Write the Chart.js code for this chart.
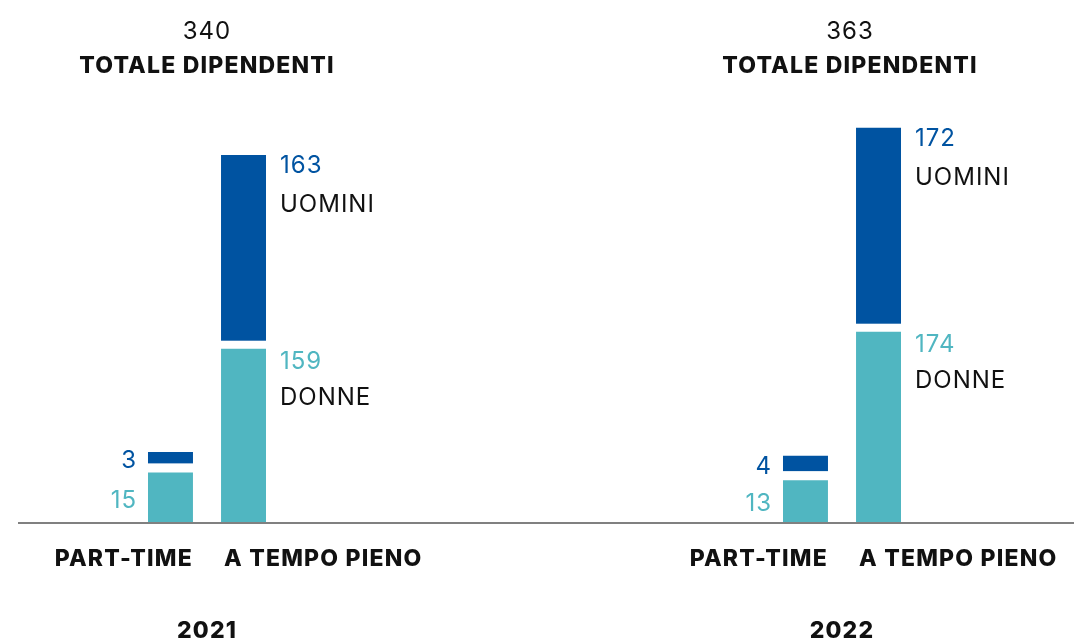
<!DOCTYPE html>
<html>
<head>
<meta charset="utf-8">
<script src="https://cdn.jsdelivr.net/npm/chart.js@4.4.1/dist/chart.umd.min.js"></script>
<style>
    html, body { margin: 0; padding: 0; background: #ffffff; }
    #wrap { width: 1074px; height: 639px; position: relative; }
</style>
</head>
<body>
<div id="wrap"><canvas id="staffChart"></canvas></div>
<script>
// Data
const years = ['2021', '2022'];
const typeLabels = ['PART-TIME', 'A TEMPO PIENO'];
const donnePartTime = [15, 13];
const uominiPartTime = [3, 4];
const donneFullTime = [159, 174];
const uominiFullTime = [163, 172];

const BLUE = '#0053a1';
const TEAL = '#50b6c1';
const FONT = 'Inter, "Noto Sans", sans-serif';

// Totals per year
const totals = years.map((_, i) => donnePartTime[i] + uominiPartTime[i] + donneFullTime[i] + uominiFullTime[i]);

const GAP_PT = 9;
const GAP_FT = 8;

// Draw all texts and the baseline
const labelsPlugin = {
    id: 'labelsPlugin',
    afterDatasetsDraw(chart) {
        const ctx = chart.ctx;
        const xScale = chart.scales.x;
        const bottom = chart.chartArea.bottom;

        // baseline
        ctx.save();
        ctx.strokeStyle = '#808080';
        ctx.lineWidth = 2;
        ctx.beginPath();
        ctx.moveTo(18, bottom + 1);
        ctx.lineTo(chart.width, bottom + 1);
        ctx.stroke();

        ctx.textBaseline = 'middle';

        years.forEach((year, i) => {
            const cx = xScale.getPixelForValue(i);
            const dPT = chart.getDatasetMeta(0).data[i];
            const uPT = chart.getDatasetMeta(1).data[i];
            const dFT = chart.getDatasetMeta(2).data[i];
            const uFT = chart.getDatasetMeta(3).data[i];

            // totals on top
            ctx.fillStyle = '#111111';
            ctx.textAlign = 'center';
            ctx.letterSpacing = '1px';
            ctx.font = `400 24px ${FONT}`;
            ctx.fillText(String(totals[i]), cx + i * 8, 32);
            ctx.letterSpacing = '1.2px';
            ctx.font = `800 23px ${FONT}`;
            ctx.fillText('TOTALE DIPENDENTI', cx + i * 8, 66);

            // year
            ctx.fillText(year, cx, 631);

            // category labels
            ctx.textAlign = 'right';
            ctx.fillText(typeLabels[0], dPT.x + dPT.width / 2, 559);
            ctx.textAlign = 'left';
            ctx.fillText(typeLabels[1], dFT.x - dFT.width / 2 + 3, 559);

            // full-time values on the right
            const rx = dFT.x + dFT.width / 2 + 14;
            ctx.letterSpacing = '1px';
            ctx.font = `400 24px ${FONT}`;
            ctx.fillStyle = BLUE;
            ctx.fillText(String(uominiFullTime[i]), rx, uFT.y + 11);
            ctx.fillStyle = TEAL;
            ctx.fillText(String(donneFullTime[i]), rx, dFT.y + GAP_FT + 13);
            ctx.font = `400 24px ${FONT}`;
            ctx.fillStyle = '#111111';
            ctx.fillText('UOMINI', rx, uFT.y + 50);
            ctx.fillText('DONNE', rx, dFT.y + GAP_FT + 49);

            // part-time values on the left
            const lx = dPT.x - dPT.width / 2 - 11;
            ctx.textAlign = 'right';
            ctx.fillStyle = BLUE;
            ctx.fillText(String(uominiPartTime[i]), lx, (uPT.y + uPT.base) / 2 + 3);
            ctx.fillStyle = TEAL;
            ctx.fillText(String(donnePartTime[i]), lx, (dPT.y + GAP_PT + dPT.base) / 2 + 3);
        });
        ctx.restore();
    }
};

const ctx = document.getElementById('staffChart').getContext('2d');
new Chart(ctx, {
    type: 'bar',
    data: {
        labels: years,
        datasets: [
            {
                label: 'Donne part-time', data: donnePartTime, stack: 'pt', yAxisID: 'yPT',
                backgroundColor: TEAL, borderColor: '#ffffff',
                borderWidth: { top: GAP_PT, bottom: 0, left: 0, right: 0 }
            },
            {
                label: 'Uomini part-time', data: uominiPartTime, stack: 'pt', yAxisID: 'yPT',
                backgroundColor: BLUE, borderWidth: 0
            },
            {
                label: 'Donne tempo pieno', data: donneFullTime, stack: 'ft', yAxisID: 'y',
                backgroundColor: TEAL, borderColor: '#ffffff',
                borderWidth: { top: GAP_FT, bottom: 0, left: 0, right: 0 }
            },
            {
                label: 'Uomini tempo pieno', data: uominiFullTime, stack: 'ft', yAxisID: 'y',
                backgroundColor: BLUE, borderWidth: 0
            }
        ]
    },
    options: {
        responsive: true,
        maintainAspectRatio: false,
        animation: false,
        events: [],
        clip: false,
        categoryPercentage: 0.23,
        barPercentage: 0.616,
        layout: { padding: { left: 207, right: 232, top: 0, bottom: 117 } },
        plugins: {
            legend: { display: false },
            tooltip: { enabled: false }
        },
        scales: {
            x: { display: false, offset: false, stacked: true, grid: { display: false } },
            y: { display: false, stacked: true, min: 0, max: 458 },
            yPT: { display: false, stacked: true, min: 0, max: 134 }
        }
    },
    plugins: [labelsPlugin]
});
</script>
</body>
</html>
